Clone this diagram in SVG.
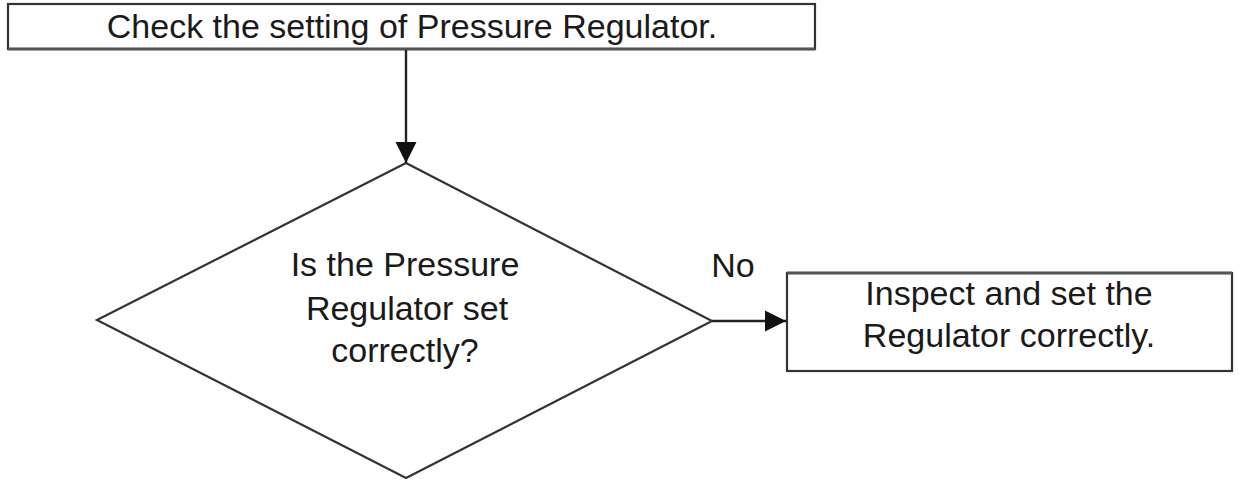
<svg xmlns="http://www.w3.org/2000/svg" width="1239" height="483" viewBox="0 0 1239 483">
  <style>
    .box { fill: #ffffff; stroke: #333333; stroke-width: 2.2; }
    .edge { fill: none; stroke: #222222; stroke-width: 2.4; }
    .lbl { font-family: "Liberation Sans", Arial, sans-serif; font-size: 34px; fill: #1a1a1a; text-anchor: middle; }
  </style>
  <defs>
    <marker id="arrow" viewBox="0 0 10 10" refX="10" refY="5" markerWidth="8.8" markerHeight="8.8" markerUnits="strokeWidth" orient="auto">
      <path d="M0,0 L10,5 L0,10 Z" fill="#111111"/>
    </marker>
  </defs>
  <rect width="1239" height="483" fill="#ffffff"/>

  <g id="check-setting">
    <rect class="box" x="8" y="4" width="807" height="45"/>
    <line x1="8" y1="49" x2="815" y2="49" stroke="#555555" stroke-width="3"/>
    <text class="lbl" x="412" y="38">Check the setting of Pressure Regulator.</text>
  </g>

  <g id="regulator-decision">
    <polygon class="box" points="406,163 712,321 406,478 97,320"/>
    <text class="lbl" x="405" y="276">Is the Pressure</text>
    <text class="lbl" x="407" y="320">Regulator set</text>
    <text class="lbl" x="405" y="362">correctly?</text>
  </g>

  <g id="inspect-set">
    <rect class="box" x="787" y="273" width="445" height="98"/>
    <line x1="787" y1="273" x2="1232" y2="273" stroke="#555555" stroke-width="3"/>
    <text class="lbl" x="1009" y="305">Inspect and set the</text>
    <text class="lbl" x="1009" y="347">Regulator correctly.</text>
  </g>

  <g id="connectors">
    <line class="edge" x1="406" y1="50" x2="406" y2="163" marker-end="url(#arrow)"/>
    <line class="edge" x1="712" y1="321" x2="786" y2="321" marker-end="url(#arrow)"/>
    <text class="lbl" x="733" y="277">No</text>
  </g>
</svg>
